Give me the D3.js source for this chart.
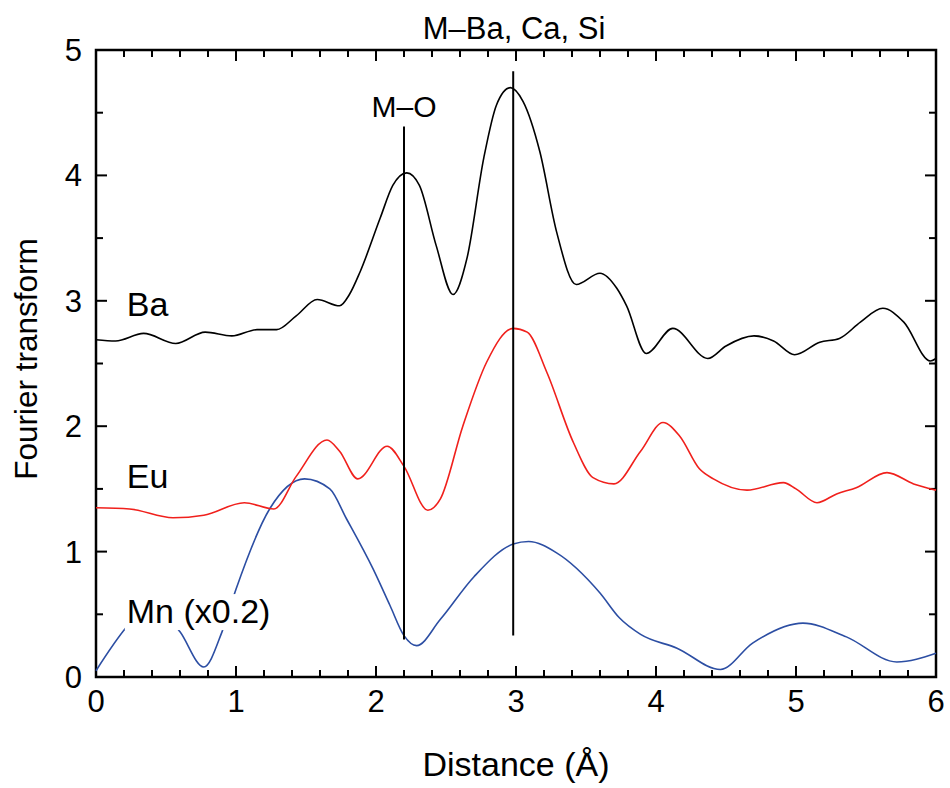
<!DOCTYPE html>
<html>
<head>
<meta charset="utf-8">
<script src="https://cdn.jsdelivr.net/npm/d3@7"></script>
<style>
  body { margin: 0; background: #fff; }
  svg { font-family: "Liberation Sans", Arial, sans-serif; }
</style>
</head>
<body>
<div id="chart"></div>
<script>
// Ba curve
const baX = [0, 0.14, 0.34, 0.57, 0.78, 0.97, 1.15, 1.29, 1.43, 1.58, 1.74, 1.81, 1.886, 2.03, 2.12, 2.22, 2.31, 2.43, 2.55, 2.65, 2.77, 2.86, 2.96, 3.05, 3.17, 3.29, 3.43, 3.6, 3.72, 3.79, 3.93, 4.12, 4.37, 4.5, 4.7, 4.84, 4.99, 5.17, 5.31, 5.46, 5.62, 5.77, 5.96, 6.0];
const baY = [2.69, 2.68, 2.74, 2.66, 2.75, 2.72, 2.77, 2.77, 2.88, 3.01, 2.96, 3.05, 3.23, 3.66, 3.92, 4.02, 3.92, 3.44, 3.05, 3.34, 4.14, 4.56, 4.70, 4.59, 4.19, 3.55, 3.13, 3.22, 3.10, 2.96, 2.58, 2.78, 2.54, 2.64, 2.72, 2.68, 2.57, 2.67, 2.70, 2.83, 2.94, 2.83, 2.52, 2.54];

// Eu curve
const euX = [0, 0.24, 0.55, 0.77, 1.06, 1.27, 1.43, 1.65, 1.74, 1.87, 2.08, 2.2, 2.37, 2.46, 2.62, 2.79, 2.98, 3.08, 3.22, 3.41, 3.55, 3.7, 3.89, 4.05, 4.17, 4.31, 4.41, 4.65, 4.91, 5.0, 5.15, 5.29, 5.43, 5.65, 5.84, 6.0];
const euY = [1.35, 1.34, 1.27, 1.29, 1.39, 1.34, 1.60, 1.89, 1.80, 1.58, 1.84, 1.68, 1.33, 1.42, 2.00, 2.51, 2.78, 2.75, 2.43, 1.87, 1.59, 1.54, 1.80, 2.03, 1.92, 1.66, 1.58, 1.49, 1.55, 1.50, 1.39, 1.46, 1.51, 1.63, 1.54, 1.49];

// Mn curve (x0.2)
const mnX = [0, 0.22, 0.41, 0.6, 0.77, 0.9, 1.0, 1.24, 1.49, 1.67, 1.79, 1.98, 2.1, 2.2, 2.29, 2.46, 2.7, 2.98, 3.09, 3.29, 3.6, 3.74, 3.89, 4.15, 4.46, 4.69, 5.05, 5.36, 5.72, 6.0];
const mnY = [0.05, 0.40, 0.60, 0.36, 0.08, 0.36, 0.70, 1.34, 1.58, 1.50, 1.26, 0.86, 0.57, 0.33, 0.25, 0.46, 0.80, 1.06, 1.08, 0.99, 0.67, 0.47, 0.34, 0.23, 0.06, 0.27, 0.43, 0.32, 0.12, 0.19];

// vertical marker lines
const markX = [2.2, 2.98];
const markTop = [4.39, 4.83];
const markBottom = [0.30, 0.33];

const xTicks = [0, 1, 2, 3, 4, 5, 6];
const yTicks = [0, 1, 2, 3, 4, 5];

const width = 950, height = 788;
const margin = {top: 50, right: 14, bottom: 111, left: 96};
const w = width - margin.left - margin.right;
const h = height - margin.top - margin.bottom;

const svg = d3.select('#chart').append('svg')
  .attr('width', width)
  .attr('height', height);

const g = svg.append('g')
  .attr('transform', 'translate(' + margin.left + ',' + margin.top + ')');

const x = d3.scaleLinear().domain([0, 6]).range([0, w]);
const y = d3.scaleLinear().domain([0, 5]).range([h, 0]);

// minor + major ticks on all four sides, pointing inward
const xMinor = d3.range(0, 6.001, 0.2);
const yMinor = d3.range(0, 5.001, 0.5);

const frame = g.append('g');
xMinor.forEach(v => {
  const len = Math.abs(v - Math.round(v)) < 1e-6 ? 11 : 7;
  frame.append('line').attr('x1', x(v)).attr('x2', x(v)).attr('y1', h).attr('y2', h - len);
  frame.append('line').attr('x1', x(v)).attr('x2', x(v)).attr('y1', 0).attr('y2', len);
});
yMinor.forEach(v => {
  const len = Math.abs(v - Math.round(v)) < 1e-6 ? 11 : 7;
  frame.append('line').attr('x1', 0).attr('x2', len).attr('y1', y(v)).attr('y2', y(v));
  frame.append('line').attr('x1', w).attr('x2', w - len).attr('y1', y(v)).attr('y2', y(v));
});
frame.selectAll('line').attr('stroke', '#000').attr('stroke-width', 2);
frame.append('rect').attr('x', 0).attr('y', 0).attr('width', w).attr('height', h)
  .attr('fill', 'none').attr('stroke', '#000').attr('stroke-width', 2.5);

// tick labels
g.selectAll('.xlab').data(xTicks).enter().append('text')
  .attr('x', d => x(d)).attr('y', h + 35)
  .attr('text-anchor', 'middle').attr('font-size', 31)
  .text(d => d);
g.selectAll('.ylab').data(yTicks).enter().append('text')
  .attr('x', -14).attr('y', d => y(d) + 11)
  .attr('text-anchor', 'end').attr('font-size', 31)
  .text(d => d);

// axis titles
g.append('text').attr('x', w / 2).attr('y', h + 99)
  .attr('text-anchor', 'middle').attr('font-size', 34)
  .text('Distance (Å)');
g.append('text')
  .attr('transform', 'translate(' + (37 - margin.left) + ',' + (359 - margin.top) + ') rotate(-90)')
  .attr('text-anchor', 'middle').attr('font-size', 31.5)
  .text('Fourier transform');

// title
svg.append('text').attr('x', 514).attr('y', 39)
  .attr('text-anchor', 'middle').attr('font-size', 31)
  .text('M–Ba, Ca, Si');

// curves
const line = d3.line().x(d => x(d[0])).y(d => y(d[1])).curve(d3.curveMonotoneX);
const series = [
  {xs: mnX, ys: mnY, color: '#2c4ea3'},
  {xs: euX, ys: euY, color: '#f0201c'},
  {xs: baX, ys: baY, color: '#000000'}
];
series.forEach(s => {
  g.append('path')
    .datum(s.xs.map((v, i) => [v, s.ys[i]]))
    .attr('d', line)
    .attr('fill', 'none')
    .attr('stroke', s.color)
    .attr('stroke-width', 1.6);
});

// marker lines
markX.forEach((v, i) => {
  g.append('line')
    .attr('x1', x(v)).attr('x2', x(v))
    .attr('y1', y(markTop[i])).attr('y2', y(markBottom[i]))
    .attr('stroke', '#000').attr('stroke-width', 2);
});
g.append('text').attr('x', x(2.2)).attr('y', 117 - margin.top)
  .attr('text-anchor', 'middle').attr('font-size', 30)
  .text('M–O');

// series labels with white backing
const labels = [
  {t: 'Ba', x: 0.22, y: 2.88},
  {t: 'Eu', x: 0.22, y: 1.505},
  {t: 'Mn (x0.2)', x: 0.22, y: 0.43}
];
labels.forEach(l => {
  const lg = g.append('g');
  const txt = lg.append('text').attr('x', x(l.x)).attr('y', y(l.y))
    .attr('font-size', 34).text(l.t);
  const bb = txt.node().getBBox();
  lg.insert('rect', 'text')
    .attr('x', bb.x - 2).attr('y', bb.y + 2)
    .attr('width', bb.width + 4).attr('height', bb.height - 2)
    .attr('fill', '#fff');
});
</script>
</body>
</html>
